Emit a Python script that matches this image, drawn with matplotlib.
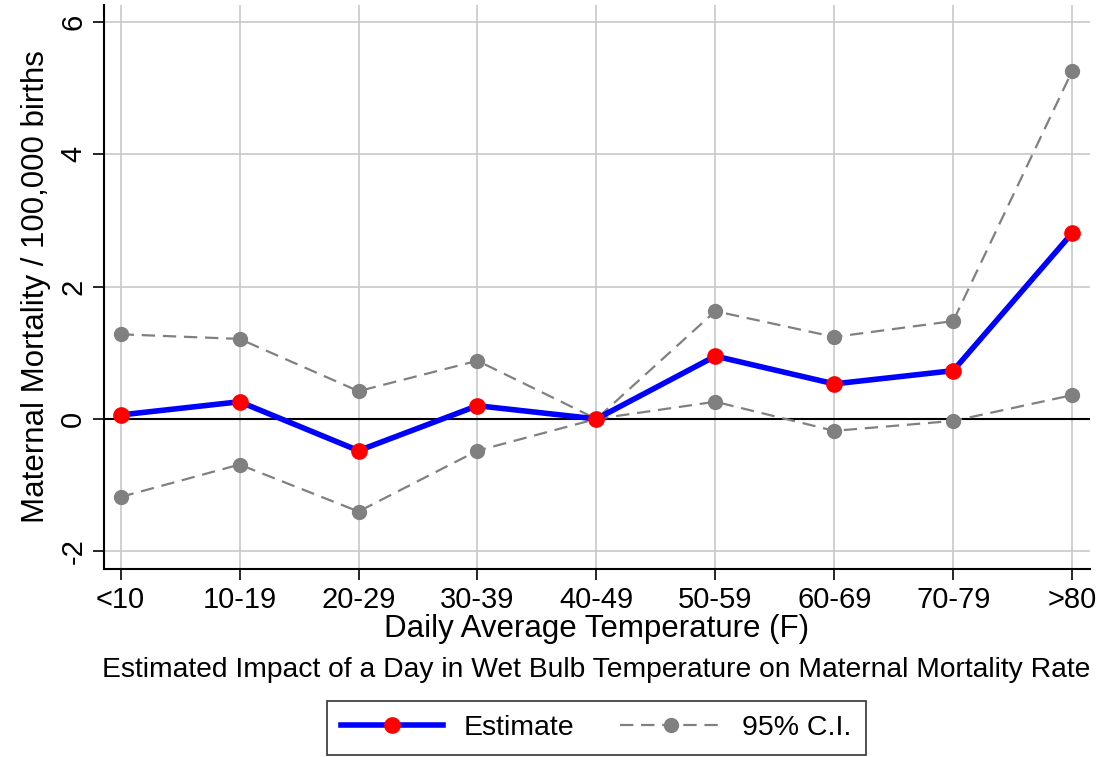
import matplotlib.pyplot as plt

plt.rcParams['font.family'] = ['Liberation Sans', 'DejaVu Sans']

# values
bins = ['<10', '10-19', '20-29', '30-39', '40-49', '50-59', '60-69', '70-79', '>80']
estimate = [0.06, 0.26, -0.48, 0.20, 0.0, 0.95, 0.53, 0.73, 2.81]
ci_upper = [1.28, 1.21, 0.42, 0.88, 0.0, 1.63, 1.24, 1.48, 5.26]
ci_lower = [-1.18, -0.69, -1.40, -0.48, 0.0, 0.26, -0.18, -0.03, 0.36]
yticks = [-2, 0, 2, 4, 6]

x = list(range(len(bins)))

fig = plt.figure(figsize=(11.04, 7.57), dpi=100)
ax = fig.add_axes([0.0942, 0.2483, 0.8931, 0.7451])

ax.grid(True, color='#c8c8c8', lw=1.2)
ax.set_axisbelow(True)
ax.axhline(0, color='black', lw=1.5, zorder=1)

ci_style = dict(color='#808080', ls=(0, (6, 3.5)), lw=1.6, marker='o', ms=10)
ax.plot(x, ci_upper, zorder=2, **ci_style)
ci_line, = ax.plot(x, ci_lower, zorder=2, label='95% C.I.', **ci_style)
est_line, = ax.plot(x, estimate, color='blue', lw=4, marker='o', ms=11,
                    mfc='red', mec='red', zorder=3, label='Estimate')

ax.set_xlim(-0.14, 8.15)
ax.set_ylim(-2.27, 6.26)
ax.set_xticks(x)
ax.set_xticklabels(bins)
ax.set_yticks(yticks)
ax.set_yticklabels([str(t) for t in yticks], rotation=90, va='center')
ax.tick_params(labelsize=21, length=8, width=1.2, direction='out')
ax.tick_params(axis='x', pad=4)
ax.tick_params(axis='y', pad=4)

for s in ['top', 'right']:
    ax.spines[s].set_visible(False)
for s in ['left', 'bottom']:
    ax.spines[s].set_linewidth(1.5)

ax.set_xlabel('Daily Average Temperature (F)', fontsize=22.5, labelpad=0)
ax.set_ylabel('Maternal Mortality / 100,000 births', fontsize=22.5, labelpad=6)

fig.text(0.540, 0.115, 'Estimated Impact of a Day in Wet Bulb Temperature on Maternal Mortality Rate',
         ha='center', va='center', fontsize=20.3)

leg = fig.legend(handles=[est_line, ci_line], loc='center', bbox_to_anchor=(0.540, 0.0383),
                 ncol=2, fontsize=20.5, frameon=True, fancybox=False, edgecolor='black',
                 handlelength=3.6, handletextpad=0.7, columnspacing=1.6, borderpad=0.5)
leg.get_frame().set_linewidth(1.2)

fig.savefig('out.png', dpi=100)
